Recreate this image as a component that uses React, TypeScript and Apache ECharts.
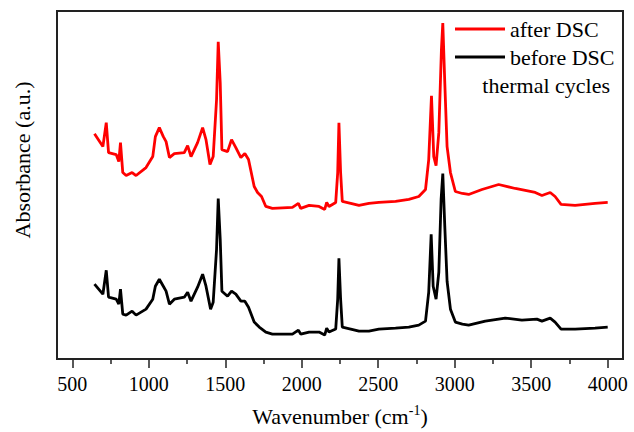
import React, { useEffect, useRef } from "react";
import * as echarts from "echarts";

// Wavenumber (cm-1) and absorbance (arbitrary units)
const afterX = [645, 700, 722, 737, 787, 804, 815, 830, 852, 891, 917, 982, 1026, 1043, 1069, 1095, 1113, 1135, 1167, 1232, 1254, 1276, 1319, 1352, 1374, 1400, 1421, 1443, 1454, 1467, 1478, 1515, 1541, 1569, 1602, 1628, 1652, 1689, 1711, 1737, 1765, 1808, 1939, 1978, 1993, 2048, 2113, 2150, 2163, 2178, 2222, 2235, 2243, 2254, 2265, 2320, 2374, 2439, 2504, 2613, 2700, 2765, 2809, 2830, 2848, 2863, 2878, 2896, 2913, 2922, 2935, 2950, 2972, 3004, 3050, 3091, 3178, 3287, 3396, 3526, 3570, 3624, 3656, 3695, 3787, 3917, 4000];
const afterY = [228, 215, 239, 209, 207, 200, 219, 189, 186, 189, 186, 194, 205, 225, 234, 225, 220, 204, 208, 209, 216, 205, 219, 234, 222, 197, 205, 262, 320, 279, 212, 210, 222, 214, 204, 208, 202, 175, 169, 165, 155, 153, 154, 158, 153, 156, 155, 152, 159, 155, 159, 189, 239, 189, 160, 158, 156, 158, 159, 160, 162, 165, 172, 202, 266, 205, 196, 229, 312, 339, 279, 215, 189, 170, 168, 167, 172, 177, 173, 169, 166, 169, 165, 157, 156, 158, 159];

const beforeX = [645, 700, 722, 737, 787, 804, 815, 830, 852, 891, 917, 982, 1026, 1043, 1069, 1095, 1113, 1135, 1167, 1232, 1254, 1276, 1319, 1352, 1374, 1404, 1421, 1443, 1454, 1467, 1478, 1515, 1541, 1569, 1602, 1628, 1652, 1689, 1722, 1765, 1808, 1939, 1978, 1993, 2048, 2113, 2150, 2163, 2178, 2222, 2235, 2243, 2254, 2265, 2320, 2374, 2439, 2504, 2613, 2700, 2765, 2809, 2830, 2846, 2859, 2878, 2896, 2911, 2922, 2935, 2950, 2972, 3004, 3050, 3091, 3200, 3330, 3439, 3537, 3570, 3624, 3656, 3695, 3787, 3917, 4000];
const beforeY = [77, 67, 91, 64, 62, 57, 72, 47, 46, 50, 46, 52, 62, 75, 82, 75, 70, 57, 62, 64, 69, 60, 74, 87, 75, 52, 59, 112, 163, 122, 70, 65, 70, 67, 60, 60, 54, 39, 34, 29, 27, 27, 31, 27, 29, 29, 26, 33, 29, 32, 62, 103, 62, 34, 32, 30, 30, 32, 33, 34, 36, 40, 69, 127, 75, 62, 89, 162, 188, 135, 80, 52, 39, 37, 36, 40, 43, 41, 42, 40, 43, 39, 32, 32, 33, 34];

const seriesNames = ["after DSC", "before DSC"];
const majorTicks = [500, 1000, 1500, 2000, 2500, 3000, 3500, 4000];
const minorTicks = [750, 1250, 1750, 2250, 2750, 3250, 3750];

const FONT = "Times New Roman";

export default function App() {
  const ref = useRef<HTMLDivElement>(null);
  useEffect(() => {
    if (!ref.current) return;
    const chart = echarts.init(ref.current, null, { renderer: "svg" });
    const zip = (xs: number[], ys: number[]) => xs.map((x, i) => [x, ys[i]]);
    chart.setOption({
      animation: false,
      backgroundColor: "#fff",
      textStyle: { fontFamily: FONT },
      grid: {
        left: 57,
        right: 11,
        top: 11,
        bottom: 72,
        show: true,
        borderColor: "#222",
        borderWidth: 2,
        backgroundColor: "transparent",
      },
      legend: {
        orient: "vertical",
        left: 450,
        top: 12,
        icon: "rect",
        itemWidth: 50,
        itemHeight: 3,
        itemGap: 4,
        textStyle: { fontFamily: FONT, fontSize: 22, color: "#000", lineHeight: 24 },
        data: seriesNames,
      },
      graphic: [
        {
          type: "text",
          x: 610,
          y: 85,
          style: {
            text: "thermal cycles",
            fontFamily: FONT,
            fontSize: 22,
            fill: "#000",
            textAlign: "right",
            textVerticalAlign: "middle",
          },
        },
      ],
      xAxis: [
        {
          type: "value",
          min: 400,
          max: 4100,
          position: "bottom",
          name: "{a|Wavenumber (cm}{b|-1}{a|)}",
          nameLocation: "middle",
          nameGap: 44,
          nameTextStyle: {
            fontFamily: FONT,
            rich: {
              a: { fontFamily: FONT, fontSize: 22, color: "#000", lineHeight: 24, verticalAlign: "bottom" },
              b: { fontFamily: FONT, fontSize: 14, color: "#000", lineHeight: 24, verticalAlign: "top", padding: [0, 0, 10, 0] },
            },
          },
          axisLine: { show: false },
          splitLine: { show: false },
          axisTick: {
            show: true,
            inside: false,
            length: 9,
            customValues: majorTicks,
            lineStyle: { color: "#222", width: 1.5 },
          },
          axisLabel: {
            customValues: majorTicks,
            formatter: (v: number) => String(v),
            margin: 15,
            fontFamily: FONT,
            fontSize: 20,
            color: "#000",
          },
        },
        {
          type: "value",
          min: 400,
          max: 4100,
          position: "bottom",
          axisLine: { show: false },
          splitLine: { show: false },
          axisTick: {
            show: true,
            inside: false,
            length: 5,
            customValues: minorTicks,
            lineStyle: { color: "#222", width: 1.5 },
          },
          axisLabel: { show: false },
        },
      ],
      yAxis: {
        type: "value",
        min: 2,
        max: 351,
        name: "Absorbance (a.u.)",
        nameLocation: "middle",
        nameGap: 24,
        nameTextStyle: { fontFamily: FONT, fontSize: 22, color: "#000", padding: [0, 0, 0, 50] },
        axisLine: { show: false },
        axisTick: { show: false },
        axisLabel: { show: false },
        splitLine: { show: false },
      },
      series: [
        {
          name: seriesNames[0],
          type: "line",
          data: zip(afterX, afterY),
          symbol: "none",
          lineStyle: { color: "#ff0000", width: 2.8 },
          itemStyle: { color: "#ff0000" },
        },
        {
          name: seriesNames[1],
          type: "line",
          data: zip(beforeX, beforeY),
          symbol: "none",
          lineStyle: { color: "#000000", width: 2.8 },
          itemStyle: { color: "#000000" },
        },
      ],
    });
    return () => chart.dispose();
  }, []);
  return <div ref={ref} style={{ width: 634, height: 432, position: "absolute", left: 0, top: 0 }} />;
}
